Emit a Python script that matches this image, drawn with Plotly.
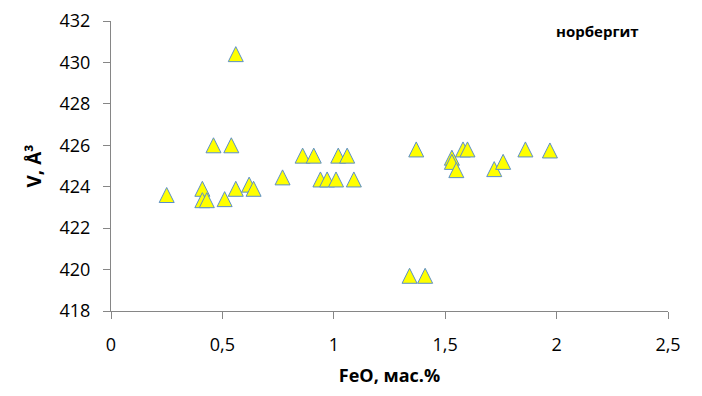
import plotly.graph_objects as go

feo = [0.25, 0.41, 0.41, 0.43, 0.46, 0.51, 0.54, 0.56, 0.56, 0.62, 0.64,
       0.77, 0.86, 0.91, 0.94, 0.97, 1.01, 1.02, 1.06, 1.09,
       1.34, 1.37, 1.41, 1.53, 1.53, 1.55, 1.58, 1.60, 1.72, 1.76, 1.86, 1.97]
volume = [423.6, 423.9, 423.35, 423.35, 426.0, 423.4, 426.0, 423.9, 430.4, 424.1, 423.9,
          424.45, 425.5, 425.5, 424.35, 424.35, 424.35, 425.5, 425.5, 424.35,
          419.7, 425.8, 419.7, 425.4, 425.2, 424.8, 425.8, 425.8, 424.85, 425.2, 425.8, 425.75]

x_ticks = [0, 0.5, 1, 1.5, 2, 2.5]
x_tick_labels = ["0", "0,5", "1", "1,5", "2", "2,5"]
y_ticks = [418, 420, 422, 424, 426, 428, 430, 432]

MS = 15
W, H = 694, 388          # page body has an 8px margin
L, R, T, B = 103, 34, 13, 85

fig = go.Figure()
fig.add_trace(go.Scatter(
    x=feo, y=volume, mode="markers",
    marker=dict(symbol="arrow-down", angle=180, standoff=MS / 2, size=MS,
                color="#FFFF00", line=dict(color="#5B8FC9", width=1)),
    showlegend=False, hoverinfo="x+y",
))

axis_font = dict(family="Open Sans", size=18, color="#000000")
fig.update_layout(
    width=W, height=H,
    margin=dict(l=L, r=R, t=T, b=B),
    paper_bgcolor="white", plot_bgcolor="white",
    xaxis=dict(range=[0, 2.5], tickvals=x_ticks, ticktext=x_tick_labels, automargin=False,
               showgrid=False, zeroline=False, showline=True, linecolor="#868686",
               linewidth=1, ticks="outside", ticklen=7, tickcolor="#868686",
               tickfont=axis_font, ticklabelstandoff=10,
               title=dict(text="<b>FeO, мас.%</b>", font=dict(family="Open Sans", size=18, color="#000"),
                          standoff=14)),
    yaxis=dict(range=[418, 432], tickvals=y_ticks, automargin=False,
               showgrid=False, zeroline=False, showline=True, linecolor="#868686",
               linewidth=1, ticks="outside", ticklen=7, tickcolor="#868686",
               tickfont=axis_font, ticklabelstandoff=9,
               title=dict(text="<b>V, Å³</b>", font=dict(family="Open Sans", size=19, color="#000"),
                          standoff=12)),
    annotations=[dict(text="<b>норбергит</b>",
                      x=(597 - 8 - L) / (W - L - R), y=(396 - B - 31) / (H - T - B),
                      xref="paper", yref="paper", xanchor="center", yanchor="middle",
                      showarrow=False, font=dict(family="Open Sans", size=15, color="#000"))],
)
fig.write_html("out.html")
